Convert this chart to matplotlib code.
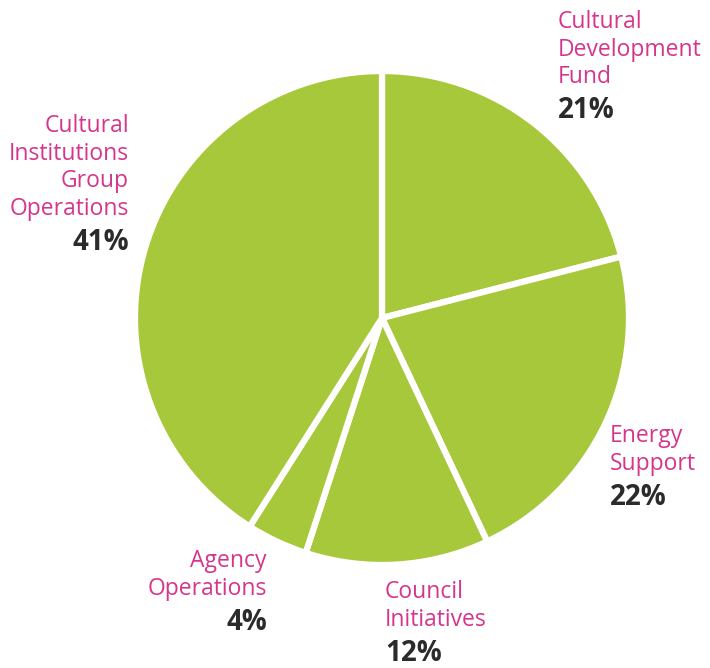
import matplotlib

matplotlib.use("Agg")
import matplotlib.pyplot as plt

# slice data, clockwise from 12 o'clock
labels = [["Cultural", "Development", "Fund"], ["Energy", "Support"],
          ["Council", "Initiatives"], ["Agency", "Operations"],
          ["Cultural", "Institutions", "Group", "Operations"]]
shares = [21, 22, 12, 4, 41]
pcts = ["21%", "22%", "12%", "4%", "41%"]

GREEN = "#a8c83c"
PINK = "#d5368c"
DARK = "#2b2b2b"
W, H = 710, 668

# label anchors in pixel coords: x, baseline of first line, alignment
anchors = [(558, 28, "left"), (610, 442, "left"), (385, 598, "left"),
           (267, 567, "right"), (129, 132, "right")]
LINE = 27.6
PCT_GAP = 35

plt.rcParams["font.family"] = ["Open Sans", "DejaVu Sans"]

fig = plt.figure(figsize=(W / 100, H / 100), dpi=100)
ax = fig.add_axes([0, 0, 1, 1])

# y is inverted, so counterclockwise in data = clockwise on screen
ax.pie(shares, colors=[GREEN] * len(shares), startangle=-90, counterclock=True,
       center=(382, 318), radius=247, frame=True,
       wedgeprops=dict(edgecolor="white", linewidth=4.5))
ax.set_xlim(0, W)
ax.set_ylim(H, 0)
ax.set_aspect("equal")
ax.axis("off")

for lines, pct, (x, y, ha) in zip(labels, pcts, anchors):
    for i, line in enumerate(lines):
        ax.text(x, y + i * LINE, line, ha=ha, va="baseline", color=PINK,
                fontsize=16.5, fontweight="medium")
    ax.text(x, y + (len(lines) - 1) * LINE + PCT_GAP, pct, ha=ha, va="baseline",
            color=DARK, fontsize=20, fontweight="bold")

fig.savefig("out.png", dpi=100)
